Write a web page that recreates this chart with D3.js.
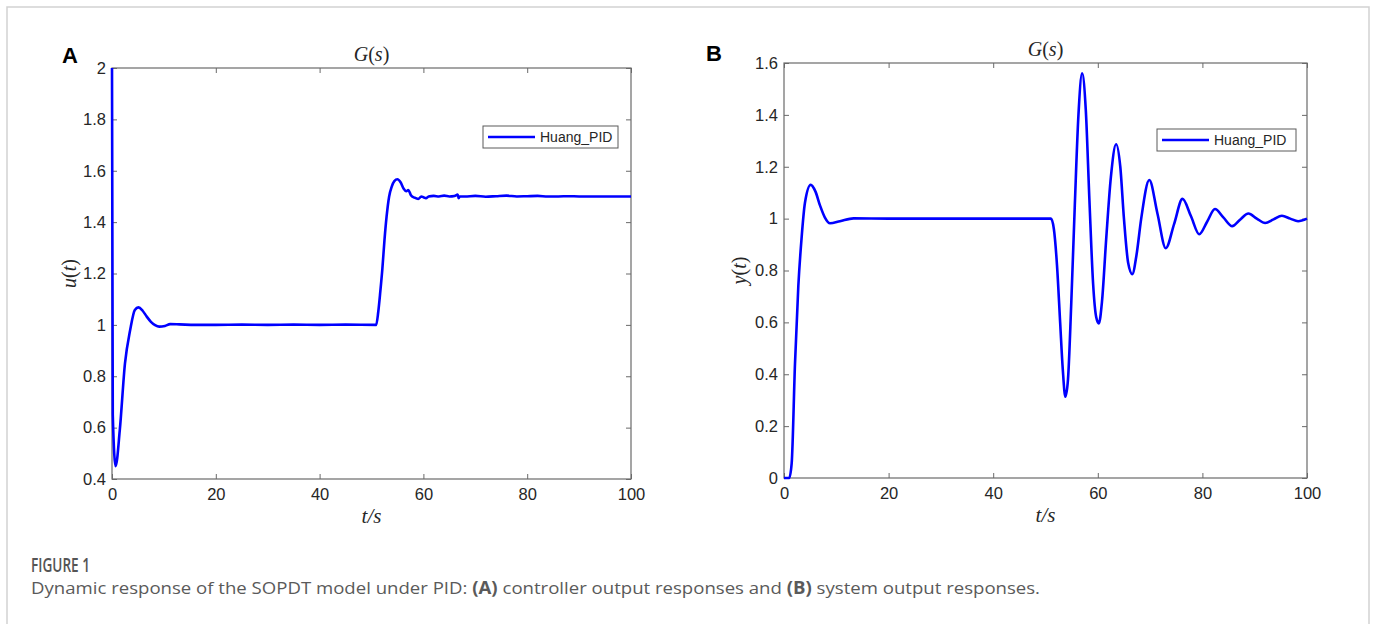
<!DOCTYPE html>
<html>
<head>
<meta charset="utf-8">
<script src="https://cdn.jsdelivr.net/npm/d3@7"></script>
<style>
  body { margin: 0; background: #fff; }
  svg text { fill: #262626; }
  .tick line { stroke: #6a6a6a; }
</style>
</head>
<body>
<div id="chart"></div>
<script>
// ---- data ----
var xTicks = [0, 20, 40, 60, 80, 100];
var uTicks = [0.4, 0.6, 0.8, 1, 1.2, 1.4, 1.6, 1.8, 2];
var yTicks = [0, 0.2, 0.4, 0.6, 0.8, 1, 1.2, 1.4, 1.6];
var seriesName = "Huang_PID";

// controller output u(t)
var tU = [0, 0.15, 0.7, 1.5, 2.5, 3.5, 4.4, 5.1, 5.9, 6.7, 7.5, 8.3, 9.1, 10.2, 11.2, 13, 16, 20, 25, 30, 35, 40, 45, 50.9,
  51.3, 51.7, 52.1, 52.5, 52.9, 53.4, 53.9, 54.4, 55, 55.6, 56.2, 56.7, 57.1, 57.6, 58.3, 59, 59.6, 60, 60.5, 61, 62, 63, 64, 65,
  66, 66.6, 66.8, 67, 68, 70, 72, 74, 76, 78, 80, 82, 84, 86, 88, 90, 92, 94, 96, 98, 100];
var uVal = [2.0, 0.65, 0.45, 0.59, 0.85, 0.98, 1.058, 1.068, 1.055, 1.032, 1.012, 0.999, 0.993, 0.996, 1.003, 1.002, 1.0, 1.0, 1.001, 1.0, 1.001, 1.0, 1.001, 1.0,
  1.05, 1.13, 1.22, 1.33, 1.42, 1.5, 1.538, 1.56, 1.567, 1.555, 1.53, 1.52, 1.525, 1.505, 1.495, 1.49, 1.5, 1.497, 1.493, 1.5, 1.502, 1.5, 1.503, 1.5,
  1.502, 1.507, 1.493, 1.5, 1.5, 1.502, 1.499, 1.501, 1.503, 1.5, 1.501, 1.502, 1.5, 1.5, 1.501, 1.5, 1.5, 1.5, 1.5, 1.5, 1.5];

// system output y(t)
var tY = [0, 1.0, 1.47, 2.1, 2.74, 3.38, 4.0, 5.1, 6.0, 6.9, 7.8, 8.8, 10.7, 13.3, 20, 30, 40, 51.05,
  51.6, 52.2, 52.8, 53.3, 53.8, 54.3, 54.9, 55.6, 56.3, 57.0, 57.7, 58.4, 59.1, 59.7, 60.2, 60.8, 61.6, 62.5, 63.5,
  64.3, 65.0, 65.8, 66.6, 67.4, 68.3, 69.85, 71.4, 73.0, 74.6, 76.2, 77.8, 79.4, 80.9, 82.4, 84.0, 85.7, 87.2, 88.8,
  90.4, 92.0, 93.6, 95.2, 96.8, 98.3, 100];
var yVal = [0, 0, 0.057, 0.44, 0.74, 0.93, 1.06, 1.13, 1.105, 1.05, 1.005, 0.982, 0.99, 1.001, 1.0, 1.0, 1.0, 1.0,
  0.96, 0.82, 0.6, 0.42, 0.313, 0.38, 0.66, 1.05, 1.4, 1.56, 1.42, 1.07, 0.75, 0.62, 0.596, 0.68, 0.92, 1.16, 1.287,
  1.2, 1.0, 0.83, 0.786, 0.86, 1.0, 1.149, 1.02, 0.886, 0.98, 1.076, 1.01, 0.94, 0.988, 1.037, 1.005, 0.971, 0.996, 1.02,
  1.0, 0.983, 0.997, 1.011, 1.0, 0.99, 1.0];

var W = 1375, H = 624;
var svg = d3.select("#chart").append("svg")
  .attr("width", W)
  .attr("height", H);

// outer frame
svg.append("rect")
  .attr("x", 7).attr("y", 7)
  .attr("width", 1362).attr("height", 640)
  .attr("fill", "none")
  .attr("stroke", "#d2d2d2")
  .attr("stroke-width", 1.5);

var serif = "'Liberation Serif', 'DejaVu Serif', serif";

function tickStyle(s) {
  s.select(".domain").remove();
  s.selectAll(".tick text")
    .style("font-family", "'Liberation Sans', Arial, sans-serif")
    .style("font-size", "16.5px")
    .style("fill", "#262626");
}

function drawPanel(cfg) {
  var x = d3.scaleLinear().domain([0, 100]).range([cfg.left, cfg.right]);
  var y = d3.scaleLinear().domain(cfg.ydomain).range([cfg.bottom, cfg.top]);
  var g = svg.append("g");

  // ticks: inside, on all four sides
  g.append("g")
    .attr("transform", "translate(0," + cfg.bottom + ")")
    .call(d3.axisBottom(x).tickValues(xTicks).tickSizeInner(-5).tickSizeOuter(0).tickPadding(9))
    .call(tickStyle);
  g.append("g")
    .attr("transform", "translate(0," + cfg.top + ")")
    .call(d3.axisTop(x).tickValues(xTicks).tickSizeInner(-5).tickSizeOuter(0).tickFormat(""))
    .call(tickStyle);
  g.append("g")
    .attr("transform", "translate(" + cfg.left + ",0)")
    .call(d3.axisLeft(y).tickValues(cfg.yticks).tickSizeInner(-5).tickSizeOuter(0).tickPadding(6)
      .tickFormat(function(d) { return String(+d.toFixed(1)); }))
    .call(tickStyle);
  g.append("g")
    .attr("transform", "translate(" + cfg.right + ",0)")
    .call(d3.axisRight(y).tickValues(cfg.yticks).tickSizeInner(-5).tickSizeOuter(0).tickFormat(""))
    .call(tickStyle);

  g.append("rect")
    .attr("x", cfg.left).attr("y", cfg.top)
    .attr("width", cfg.right - cfg.left).attr("height", cfg.bottom - cfg.top)
    .attr("fill", "none")
    .attr("stroke", "#6a6a6a")
    .attr("stroke-width", 1.2);

  var line = d3.line()
    .x(function(d) { return x(d[0]); })
    .y(function(d) { return y(d[1]); })
    .curve(d3.curveMonotoneX);

  g.append("path")
    .datum(d3.zip(cfg.t, cfg.v))
    .attr("fill", "none")
    .attr("stroke", "#0000ff")
    .attr("stroke-width", 2.6)
    .attr("stroke-linejoin", "round")
    .attr("d", line);

  // title G(s)
  var cx = (cfg.left + cfg.right) / 2;
  var title = g.append("text")
    .attr("x", cx).attr("y", cfg.top - 7)
    .attr("text-anchor", "middle")
    .style("font-family", serif)
    .style("font-size", "20px");
  title.append("tspan").style("font-style", "italic").text("G");
  title.append("tspan").text("(");
  title.append("tspan").style("font-style", "italic").text("s");
  title.append("tspan").text(")");

  // x label t/s
  g.append("text")
    .attr("x", cx).attr("y", cfg.bottom + 44)
    .attr("text-anchor", "middle")
    .style("font-family", serif)
    .style("font-style", "italic")
    .style("font-size", "21px")
    .text("t/s");

  // y label
  var yl = g.append("text")
    .attr("transform", "translate(" + cfg.ylabX + "," + ((cfg.top + cfg.bottom) / 2) + ") rotate(-90)")
    .attr("text-anchor", "middle")
    .style("font-family", serif)
    .style("font-size", "20px");
  yl.append("tspan").style("font-style", "italic").text(cfg.ylabel);
  yl.append("tspan").text("(");
  yl.append("tspan").style("font-style", "italic").text("t");
  yl.append("tspan").text(")");

  // panel letter
  g.append("text")
    .attr("x", cfg.letterX).attr("y", cfg.letterY)
    .style("font-family", "'Liberation Sans', Arial, sans-serif")
    .style("font-weight", "bold")
    .style("font-size", "22px")
    .style("fill", "#000")
    .text(cfg.letter);

  // legend
  var lg = g.append("g").attr("transform", "translate(" + cfg.legX + "," + cfg.legY + ")");
  lg.append("rect")
    .attr("width", cfg.legW).attr("height", 22)
    .attr("fill", "#fff")
    .attr("stroke", "#5a5a5a")
    .attr("stroke-width", 1);
  lg.append("line")
    .attr("x1", 5).attr("x2", 52)
    .attr("y1", 11).attr("y2", 11)
    .attr("stroke", "#0000ff")
    .attr("stroke-width", 2.6);
  lg.append("text")
    .attr("x", 57).attr("y", 16)
    .style("font-family", "'Liberation Sans', Arial, sans-serif")
    .style("font-size", "14px")
    .text(seriesName);
}

drawPanel({
  left: 112, right: 631, top: 68, bottom: 479,
  ydomain: [0.4, 2], yticks: uTicks,
  t: tU, v: uVal, ylabel: "u", ylabX: 76,
  letter: "A", letterX: 62, letterY: 63,
  legX: 483, legY: 126, legW: 135
});

drawPanel({
  left: 784, right: 1307, top: 63, bottom: 478,
  ydomain: [0, 1.6], yticks: yTicks,
  t: tY, v: yVal, ylabel: "y", ylabX: 746,
  letter: "B", letterX: 706, letterY: 61,
  legX: 1157, legY: 129, legW: 139
});

// caption
svg.append("text")
  .attr("x", 31).attr("y", 572)
  .attr("textLength", 59)
  .attr("lengthAdjust", "spacingAndGlyphs")
  .style("font-family", "'Open Sans', sans-serif")
  .style("font-weight", 600)
  .style("font-size", "19px")
  .style("fill", "#555")
  .text("FIGURE 1");

var cap = svg.append("text")
  .attr("x", 31).attr("y", 594)
  .attr("textLength", 1009)
  .attr("lengthAdjust", "spacingAndGlyphs")
  .style("font-family", "'Open Sans', sans-serif")
  .style("font-size", "17px")
  .style("fill", "#5a5a5a");
cap.append("tspan").text("Dynamic response of the SOPDT model under PID: ");
cap.append("tspan").style("font-weight", "bold").text("(A)");
cap.append("tspan").text(" controller output responses and ");
cap.append("tspan").style("font-weight", "bold").text("(B)");
cap.append("tspan").text(" system output responses.");
</script>
</body>
</html>
